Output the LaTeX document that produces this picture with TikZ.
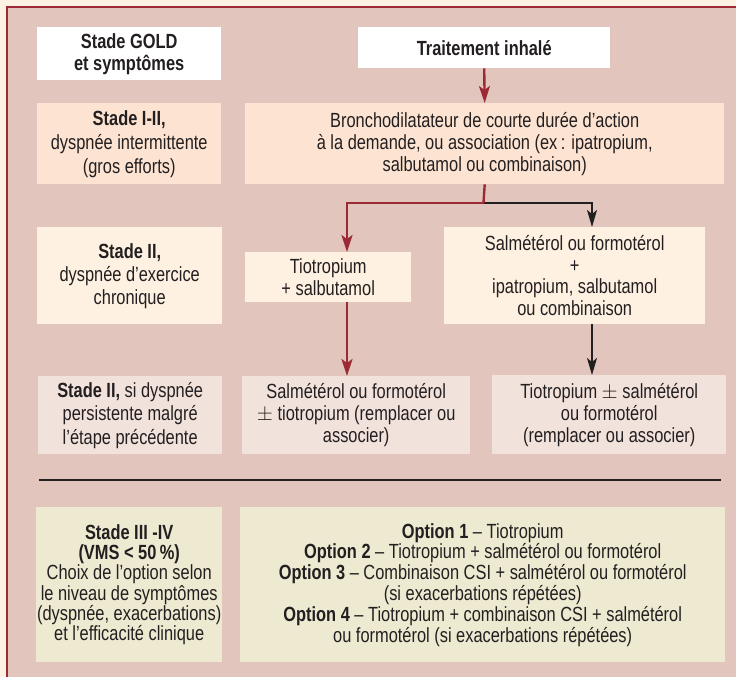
\documentclass[tikz,border=0pt]{standalone}
\usepackage{fontspec}
\setmainfont{Liberation Sans}[FakeStretch=0.8]
\usetikzlibrary{arrows.meta}
\definecolor{outercream}{HTML}{FDF1E4}
\definecolor{panelpink}{HTML}{E2C6BD}
\definecolor{darkred}{HTML}{9B2A35}
\definecolor{peach}{HTML}{FDE4D2}
\definecolor{creamy}{HTML}{FEF1E2}
\definecolor{lightpink}{HTML}{F2E2DC}
\definecolor{beige}{HTML}{EEE9D1}
\definecolor{inkblack}{HTML}{231F20}
\tikzset{
  box/.style={inner sep=0pt, anchor=north west, align=center, text=inkblack,
    font=\fontsize{20.5}{22}\selectfont},
  redarrow/.style={draw=darkred, line width=2.4pt, -{Stealth[length=17pt,width=11pt,inset=4pt]}},
  redline/.style={draw=darkred, line width=2.4pt},
  blackarrow/.style={draw=inkblack, line width=1.1pt, -{Stealth[length=17pt,width=10pt,inset=4pt]}},
}
\begin{document}
\begin{tikzpicture}[x=1pt,y=-1pt]
\useasboundingbox (0,0) rectangle (736,677);
\fill[outercream] (0,0) rectangle (736,677);
\fill[panelpink] (7,7) rectangle (736,677);
\draw[darkred, line width=2.2pt] (7,677) -- (7,7) -- (736,7);

\node[box, fill=white, minimum width=184pt, minimum height=53pt] (gold) at (37,27)
  {\textbf{Stade GOLD}\\\textbf{et symptômes}};
\node[box, fill=white, minimum width=252pt, minimum height=41pt] (trait) at (358,27)
  {\textbf{Traitement inhalé}};

\node[box, fill=peach, minimum width=184pt, minimum height=81pt,
  font=\fontsize{20.5}{24}\selectfont] (s12) at (37,103)
  {\textbf{Stade I-II,}\\dyspnée intermittente\\(gros efforts)};
\node[box, fill=peach, minimum width=479pt, minimum height=81pt] (broncho) at (245,103)
  {Bronchodilatateur de courte durée d’action\\à la demande, ou association (ex\,: ipatropium,\\salbutamol ou combinaison)};

\node[box, fill=creamy, minimum width=185pt, minimum height=97pt,
  font=\fontsize{20.5}{23}\selectfont] (s2) at (37,227)
  {\textbf{Stade II,}\\dyspnée d’exercice\\chronique};
\node[box, fill=creamy, minimum width=166pt, minimum height=50pt] (tio) at (245,252)
  {Tiotropium\\+ salbutamol};
\node[box, fill=creamy, minimum width=261pt, minimum height=97pt,
  font=\fontsize{20.5}{21.5}\selectfont] (sal) at (444,227)
  {Salmétérol ou formotérol\\+\\ipatropium, salbutamol\\ou combinaison};

\node[box, fill=lightpink, minimum width=184pt, minimum height=78pt,
  font=\fontsize{20.5}{23.5}\selectfont] (s2b) at (38,376)
  {\textbf{Stade II,} si dyspnée\\persistente malgré\\l’étape précédente};
\node[box, fill=lightpink, minimum width=228pt, minimum height=78pt] (salpm) at (242,376)
  {Salmétérol ou formotérol\\$\pm$ tiotropium (remplacer ou\\associer)};
\node[box, fill=lightpink, minimum width=234pt, minimum height=79pt] (tiopm) at (492,375)
  {Tiotropium $\pm$ salmétérol\\ou formotérol\\(remplacer ou associer)};

\coordinate (lineL) at (39,480);
\coordinate (lineR) at (721,480);
\draw[inkblack, line width=2.4pt] (lineL) -- (lineR);

\node[box, fill=beige, minimum width=186pt, minimum height=155pt,
  font=\fontsize{20.5}{20.3}\selectfont] (s34) at (36,507)
  {\textbf{Stade III -IV}\\\textbf{(VMS < 50\,\%)}\\Choix de l’option selon\\le niveau de symptômes\\(dyspnée, exacerbations)\\et l’efficacité clinique};
\node[box, fill=beige, minimum width=485pt, minimum height=155pt,
  font=\fontsize{20.5}{20.8}\selectfont] (opt) at (240,507)
  {\textbf{Option 1} – Tiotropium\\\textbf{Option 2} – Tiotropium + salmétérol ou formotérol\\\textbf{Option 3} – Combinaison CSI + salmétérol ou formotérol\\(si exacerbations répétées)\\\textbf{Option 4} – Tiotropium + combinaison CSI + salmétérol\\ou formotérol (si exacerbations répétées)};

% connectors
\draw[redarrow] (trait.south) -- (broncho.north);
\coordinate (fork) at (483.5,203);
\coordinate (redx) at (347,0);
\coordinate (blkx) at (592,0);
\draw[blackarrow] (fork) -| (blkx |- sal.north);
\draw[redline] (broncho.south) -- (fork);
\draw[redarrow] (fork) -| (redx |- tio.north);
\draw[redarrow] (redx |- tio.south) -- (redx |- salpm.north);
\draw[blackarrow] (blkx |- sal.south) -- (blkx |- tiopm.north);
\end{tikzpicture}
\end{document}
